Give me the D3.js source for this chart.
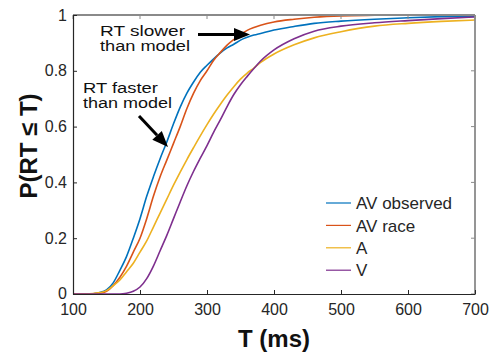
<!DOCTYPE html>
<html>
<head>
<meta charset="utf-8">
<script src="https://cdn.jsdelivr.net/npm/d3@7"></script>
<style>
  body { margin: 0; background: #fff; }
  svg { display: block; font-family: "Liberation Sans", Arial, sans-serif; }
</style>
</head>
<body>
<svg id="chart"></svg>
<script>
// response time grid (ms)
const times = [100, 130, 140, 150, 160, 170, 180, 190, 200, 210, 220, 230, 240, 250, 260, 270, 280, 290, 300,
  310, 320, 330, 340, 350, 360, 370, 380, 400, 430, 460, 500, 550, 600, 650, 700];

const avObserved = [0, 0.001, 0.005, 0.015, 0.04, 0.085, 0.135, 0.2, 0.27, 0.35, 0.42, 0.485, 0.545, 0.61, 0.67, 0.72, 0.76, 0.795, 0.82,
  0.843, 0.864, 0.882, 0.895, 0.91, 0.92, 0.928, 0.934, 0.946, 0.959, 0.97, 0.978, 0.985, 0.99, 0.994, 0.996];
const avRace = [0, 0.001, 0.003, 0.01, 0.03, 0.06, 0.1, 0.15, 0.2, 0.27, 0.35, 0.42, 0.48, 0.54, 0.6, 0.665, 0.72, 0.765, 0.8,
  0.838, 0.866, 0.892, 0.912, 0.93, 0.945, 0.955, 0.963, 0.975, 0.985, 0.992, 0.997, 0.999, 1, 1, 1];
const audio = [0, 0.002, 0.005, 0.012, 0.03, 0.05, 0.08, 0.11, 0.15, 0.19, 0.24, 0.29, 0.34, 0.39, 0.437, 0.482, 0.525, 0.567, 0.607,
  0.645, 0.68, 0.713, 0.743, 0.77, 0.792, 0.81, 0.83, 0.86, 0.893, 0.918, 0.94, 0.96, 0.97, 0.977, 0.982];
const visual = [0, 0, 0, 0, 0, 0, 0.003, 0.01, 0.025, 0.055, 0.1, 0.155, 0.21, 0.27, 0.33, 0.388, 0.44, 0.487, 0.532,
  0.58, 0.625, 0.672, 0.715, 0.75, 0.78, 0.808, 0.835, 0.875, 0.915, 0.942, 0.96, 0.972, 0.98, 0.987, 0.993];

const seriesNames = ['AV observed', 'AV race', 'A', 'V'];
const seriesValues = [avObserved, avRace, audio, visual];
const colors = ['#0072BD', '#D95319', '#EDB120', '#7E2F8E'];

const xTicks = [100, 200, 300, 400, 500, 600, 700];
const yTicks = [0, 0.2, 0.4, 0.6, 0.8, 1];

const width = 493, height = 354;
const margin = { top: 15, right: 18, bottom: 60, left: 73 };
const plotW = width - margin.left - margin.right;
const plotH = height - margin.top - margin.bottom;

const svg = d3.select('#chart').attr('width', width).attr('height', height);
svg.append('rect').attr('width', width).attr('height', height).attr('fill', '#fff');

const g = svg.append('g').attr('transform', `translate(${margin.left},${margin.top})`);

const x = d3.scaleLinear().domain([100, 700]).range([0, plotW]);
const y = d3.scaleLinear().domain([0, 1]).range([plotH, 0]);

// curves
const line = d3.line()
  .curve(d3.curveMonotoneX)
  .x(d => x(d[0]))
  .y(d => y(d[1]));

seriesValues.forEach((vals, i) => {
  g.append('path')
    .datum(times.map((t, j) => [t, vals[j]]))
    .attr('fill', 'none')
    .attr('stroke', colors[i])
    .attr('stroke-width', 1.6)
    .attr('stroke-linejoin', 'round')
    .attr('d', line);
});

// box: top/right lighter
g.append('line').attr('x1', 0).attr('x2', plotW).attr('y1', 0).attr('y2', 0)
  .attr('stroke', '#8a8a8a').attr('stroke-width', 1.8);
g.append('line').attr('x1', plotW).attr('x2', plotW).attr('y1', 0).attr('y2', plotH)
  .attr('stroke', '#8a8a8a').attr('stroke-width', 1.8);

// top / right inward ticks
g.append('g').selectAll('line').data(xTicks).join('line')
  .attr('x1', d => x(d)).attr('x2', d => x(d)).attr('y1', 0).attr('y2', 4)
  .attr('stroke', '#8a8a8a');
g.append('g').selectAll('line').data(yTicks).join('line')
  .attr('x1', plotW).attr('x2', plotW - 4).attr('y1', d => y(d)).attr('y2', d => y(d))
  .attr('stroke', '#8a8a8a');

// bottom axis
const xAxis = g.append('g')
  .attr('transform', `translate(0,${plotH})`)
  .call(d3.axisBottom(x).tickValues(xTicks).tickSizeInner(-4).tickSizeOuter(0).tickPadding(10).tickFormat(d3.format('d')));

// left axis
const yAxis = g.append('g')
  .call(d3.axisLeft(y).tickValues(yTicks).tickSizeInner(-4).tickSizeOuter(0).tickPadding(6).tickFormat(d => d === 0 || d === 1 ? d : d3.format('.1f')(d)));

[xAxis, yAxis].forEach(ax => {
  ax.select('.domain').attr('stroke', '#262626').attr('stroke-width', 1.2);
  ax.selectAll('.tick line').attr('stroke', '#262626');
  ax.selectAll('.tick text')
    .attr('fill', '#262626')
    .attr('font-size', 16)
    .attr('font-family', '"Liberation Sans", Arial, sans-serif');
});
// keep the "0" label clear of "100"
yAxis.selectAll('.tick text').filter(d => d === 0).attr('dy', '0.25em');

// axis labels
svg.append('text')
  .attr('x', margin.left + plotW / 2)
  .attr('y', 347)
  .attr('text-anchor', 'middle')
  .attr('font-size', 24)
  .attr('font-weight', 'bold')
  .attr('fill', '#111')
  .text('T (ms)');

svg.append('text')
  .attr('transform', 'rotate(-90)')
  .attr('x', -146)
  .attr('y', 37)
  .attr('text-anchor', 'middle')
  .attr('font-size', 24)
  .attr('font-weight', 'bold')
  .attr('fill', '#111')
  .text('P(RT \u2264 T)');

// legend
const legend = svg.append('g').attr('transform', 'translate(326,203)');
const items = legend.selectAll('g').data(seriesNames).join('g')
  .attr('transform', (d, i) => `translate(0,${i * 22.4})`);
items.append('line')
  .attr('x1', 0).attr('x2', 25).attr('y1', 0).attr('y2', 0)
  .attr('stroke', (d, i) => colors[i])
  .attr('stroke-width', 1.2);
items.append('text')
  .attr('x', 30).attr('y', 0).attr('dy', '0.36em')
  .attr('font-size', 17)
  .attr('fill', '#262626')
  .text(d => d);

// annotations
const notes = [
  { lines: ['RT slower', 'than model'], x: 100, y: 35.5, w: [85, 90] },
  { lines: ['RT faster', 'than model'], x: 83, y: 93, w: [75, 89] }
];
notes.forEach(n => {
  n.lines.forEach((t, i) => {
    svg.append('text')
      .attr('x', n.x)
      .attr('y', n.y + i * 15)
      .attr('font-size', 15.5)
      .attr('fill', '#111')
      .attr('textLength', n.w[i])
      .attr('lengthAdjust', 'spacingAndGlyphs')
      .text(t);
  });
});

function arrow(x1, y1, x2, y2) {
  const ang = Math.atan2(y2 - y1, x2 - x1);
  const headLen = 16, headW = 6.5;
  const bx = x2 - headLen * Math.cos(ang), by = y2 - headLen * Math.sin(ang);
  svg.append('line')
    .attr('x1', x1).attr('y1', y1).attr('x2', bx).attr('y2', by)
    .attr('stroke', '#000').attr('stroke-width', 3);
  const px = -Math.sin(ang) * headW, py = Math.cos(ang) * headW;
  svg.append('path')
    .attr('d', `M${x2},${y2}L${bx + px},${by + py}L${bx - px},${by - py}Z`)
    .attr('fill', '#000');
}
arrow(198, 34.5, 250, 34.5);
arrow(139, 116, 168, 147);
</script>
</body>
</html>
